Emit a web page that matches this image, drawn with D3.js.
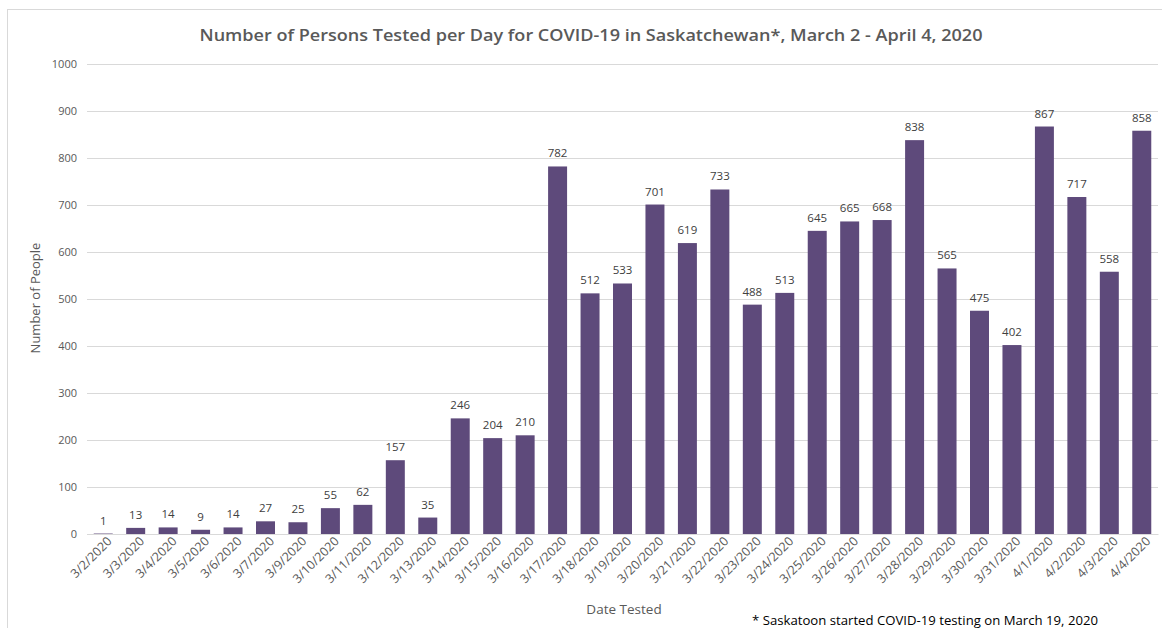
<!DOCTYPE html>
<html><head><meta charset="utf-8">
<script src="https://cdn.jsdelivr.net/npm/d3@7"></script>
<style>body{margin:0;background:#fff}svg{display:block}</style>
</head><body>
<script>
const categories = ["3/2/2020","3/3/2020","3/4/2020","3/5/2020","3/6/2020","3/7/2020","3/9/2020","3/10/2020","3/11/2020","3/12/2020","3/13/2020","3/14/2020","3/15/2020","3/16/2020","3/17/2020","3/18/2020","3/19/2020","3/20/2020","3/21/2020","3/22/2020","3/23/2020","3/24/2020","3/25/2020","3/26/2020","3/27/2020","3/28/2020","3/29/2020","3/30/2020","3/31/2020","4/1/2020","4/2/2020","4/3/2020","4/4/2020"];
const tested = [1,13,14,9,14,27,25,55,62,157,35,246,204,210,782,512,533,701,619,733,488,513,645,665,668,838,565,475,402,867,717,558,858];
const yTicks = [0,100,200,300,400,500,600,700,800,900,1000];
const titleText = "Number of Persons Tested per Day for COVID-19 in Saskatchewan*, March 2 - April 4, 2020";
const yTitle = "Number of People";
const xTitle = "Date Tested";
const footnote = "* Saskatoon started COVID-19 testing on March 19, 2020";

(function () {
const W = 1162, H = 628;
const font = "Open Sans, Liberation Sans, sans-serif";
const svg = d3.select("body").append("svg").attr("width", W).attr("height", H);

svg.append("rect").attr("x", 7.5).attr("y", 9.5).attr("width", 1170).attr("height", 640)
  .attr("fill", "none").attr("stroke", "#d9d9d9");

const pl = 87, pr = 1158, pt = 64, pb = 534;
const x = d3.scaleBand().domain(categories).range([pl, pr]).paddingInner(0.415).paddingOuter(0.2075);
const y = d3.scaleLinear().domain([0, 1000]).range([pb, pt]);

const yAxis = d3.axisLeft(y).tickValues(yTicks).tickFormat(d3.format("d")).tickSize(-(pr - pl)).tickPadding(10);
const gy = svg.append("g").attr("transform", `translate(${pl},0)`).call(yAxis);
gy.select(".domain").remove();
gy.selectAll(".tick line").attr("stroke", "#d9d9d9");
gy.selectAll(".tick text").attr("fill", "#595959").style("font-family", font).style("font-size", "11px");

svg.append("g").selectAll("rect").data(tested).join("rect")
  .attr("x", (d, i) => x(categories[i]))
  .attr("width", x.bandwidth())
  .attr("y", d => y(d))
  .attr("height", d => y(0) - y(d))
  .attr("fill", "#5e4a7b");

svg.append("g").selectAll("text").data(tested).join("text")
  .attr("x", (d, i) => x(categories[i]) + x.bandwidth() / 2)
  .attr("y", d => y(d) - 9)
  .attr("text-anchor", "middle")
  .attr("fill", "#404040")
  .style("font-family", font).style("font-size", "11.5px")
  .text(d => d);

const xAxis = d3.axisBottom(x).tickSize(0).tickPadding(8);
const gx = svg.append("g").attr("transform", `translate(0,${pb})`).call(xAxis);
gx.select(".domain").attr("stroke", "#d9d9d9");
gx.selectAll(".tick text")
  .attr("fill", "#595959").style("font-family", font).style("font-size", "12.5px")
  .attr("text-anchor", "end")
  .attr("x", 1).attr("y", 8)
  .attr("dx", 0).attr("dy", "0.35em")
  .attr("transform", "rotate(-45)");

svg.append("text").attr("x", 591).attr("y", 41).attr("text-anchor", "middle")
  .attr("fill", "#595959").style("font-family", font).style("font-size", "17px").style("font-weight", "600")
  .attr("textLength", 783).attr("lengthAdjust", "spacingAndGlyphs")
  .text(titleText);

svg.append("text").attr("transform", "translate(40,298) rotate(-90)").attr("text-anchor", "middle")
  .attr("fill", "#595959").style("font-family", font).style("font-size", "13px").text(yTitle);

svg.append("text").attr("x", 624).attr("y", 614).attr("text-anchor", "middle")
  .attr("fill", "#595959").style("font-family", font).style("font-size", "13.5px").text(xTitle);

svg.append("text").attr("x", 752).attr("y", 625).attr("text-anchor", "start")
  .attr("fill", "#000").style("font-family", font).style("font-size", "13.5px")
  .attr("textLength", 346).attr("lengthAdjust", "spacingAndGlyphs")
  .text(footnote);
})();
</script>
</body></html>
